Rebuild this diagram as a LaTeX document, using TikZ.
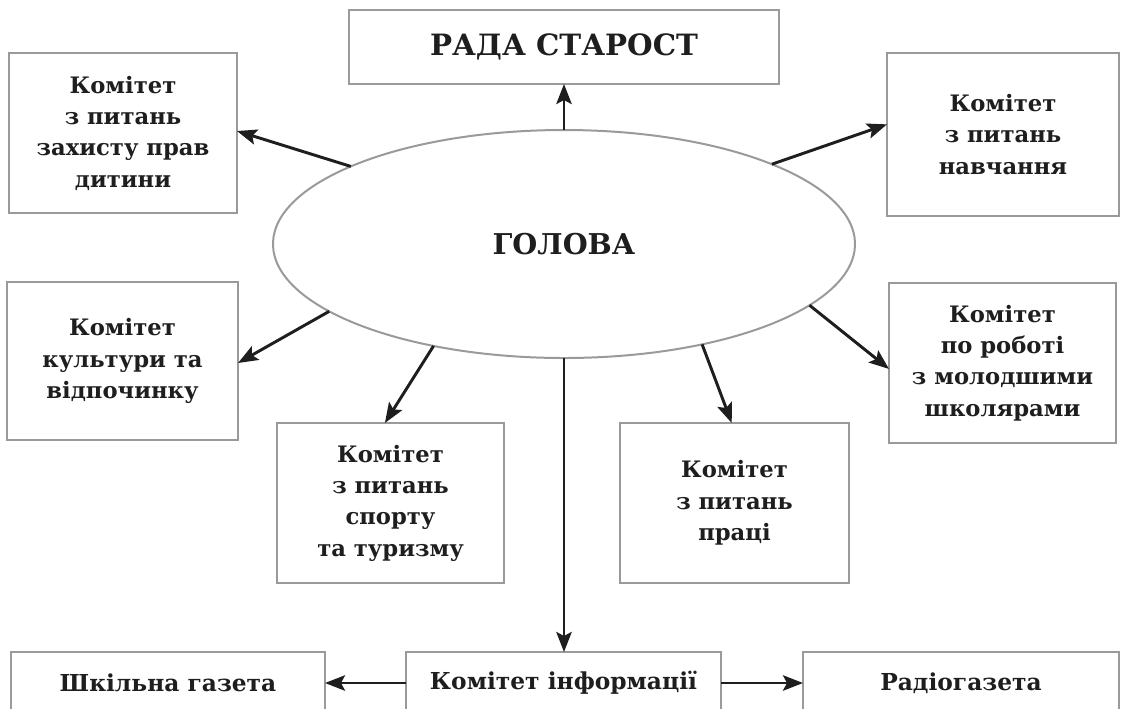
\documentclass[tikz,border=0pt]{standalone}
\usepackage{fontspec}
\setmainfont{DejaVu Serif}
\usetikzlibrary{shapes.geometric,arrows.meta}
\definecolor{boxgray}{HTML}{9A9A9A}
\definecolor{ink}{HTML}{1E1E1E}
\tikzset{
  sz/.style 2 args={minimum width=#1*0.75pt, minimum height=#2*0.75pt},
  box/.style={draw=boxgray, line width=1.5pt, rectangle, inner sep=0pt, outer sep=0pt,
    align=center, text=ink, font=\bfseries\fontsize{17}{23.5}\selectfont},
  bigtxt/.style={font=\bfseries\fontsize{22}{26}\selectfont},
  btmtxt/.style={font=\bfseries\fontsize{17.5}{22}\selectfont},
  headell/.style={draw=boxgray, line width=1.5pt, ellipse, inner sep=0pt, outer sep=0pt, text=ink,
    font=\bfseries\fontsize{21.5}{26}\selectfont},
  arr/.style={draw=ink, line width=2.2pt, -{Stealth[length=15pt,width=11.5pt,inset=3pt]}}
}
\begin{document}
\begin{tikzpicture}[x=0.75pt,y=-0.75pt]
\useasboundingbox (0,0) rectangle (1124,708);
\clip (0,0) rectangle (1124,708);
\fill[white] (0,0) rectangle (1124,708);

\node[headell, sz={582}{228}] (head) at (564,244) {ГОЛОВА};

\node[box, bigtxt, sz={430}{74}] (rada) at (564,47) {РАДА СТАРОСТ};
\node[box, sz={228}{160}] (prava) at (123,133) {Комітет\\з питань\\захисту прав\\дитини};
\node[box, sz={232}{163}] (navch) at (1003,134.5) {Комітет\\з питань\\навчання};
\node[box, sz={231}{158}] (kult) at (122.5,361) {Комітет\\культури та\\відпочинку};
\node[box, sz={227}{160}] (molod) at (1002.5,363) {Комітет\\по роботі\\з молодшими\\школярами};
\node[box, sz={227}{160}] (sport) at (390.5,503) {Комітет\\з питань\\спорту\\та туризму};
\node[box, sz={229}{160}] (pratsi) at (734.5,503) {Комітет\\з питань\\праці};
\node[box, btmtxt, sz={314}{62}] (gazeta) at (168,683) {Шкільна газета};
\node[box, btmtxt, sz={315}{62}] (info) at (563.5,683) {Комітет інформації};
\node[box, btmtxt, sz={316}{62}] (radio) at (961,683) {Радіогазета};

\draw[arr] (head.north) -- (rada.south);
\draw[arr] (head.160.4) -- (prava.1.5);
\draw[arr] (head.21) -- (navch.175.4);
\draw[arr] (head.196.1) -- (kult.-1);
\draw[arr] (head.218.2) -- (sport.94.6);
\draw[arr] (head.-36.8) -- (pratsi.92);
\draw[arr] (head.-14.6) -- (molod.183);
\draw[arr] (head.south) -- (head.south |- info.north);
\draw[arr] (info.west) -- (gazeta.east);
\draw[arr] (info.east) -- (radio.west);
\end{tikzpicture}
\end{document}
